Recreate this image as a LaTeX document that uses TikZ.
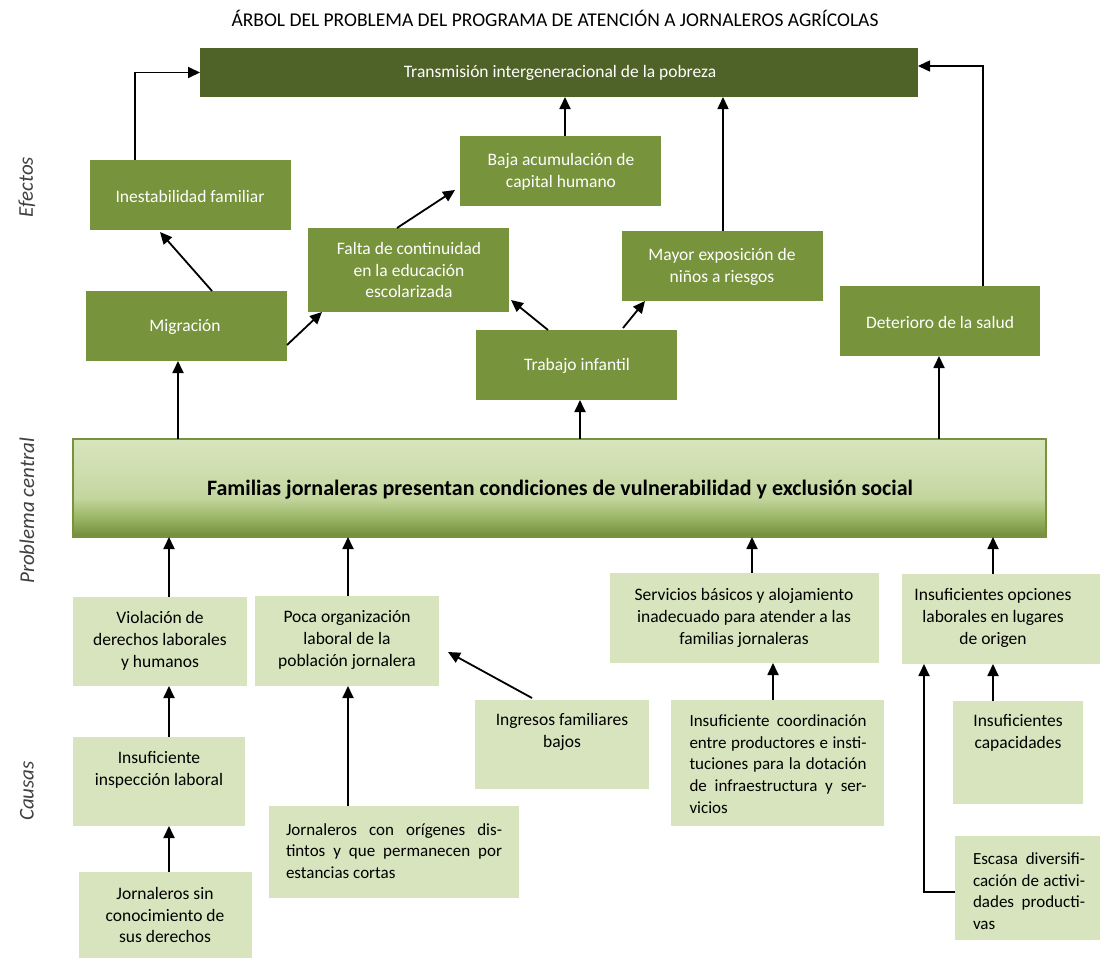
\documentclass[tikz,border=0pt]{standalone}
\usepackage{fontspec}
\setmainfont{Carlito}
\usetikzlibrary{arrows.meta}
\definecolor{topgreen}{HTML}{4F6228}
\definecolor{effgreen}{HTML}{77933C}
\definecolor{causegreen}{HTML}{D7E4BD}
\definecolor{labgray}{HTML}{404040}
\pgfdeclareverticalshading{censhade}{100bp}{color(0bp)=(effgreen!95!black); color(25bp)=(effgreen!95!black); color(35bp)=({rgb,255:red,155;green,182;blue,102}); color(45bp)=({rgb,255:red,195;green,214;blue,158}); color(60bp)=({rgb,255:red,207;green,223;blue,176}); color(75bp)=(causegreen); color(100bp)=(causegreen)}
\newcommand\fs{\fontsize{17.5}{21.7}\selectfont}
\newcommand\fsj{\fontsize{17}{21.7}\selectfont}
\newcommand\bx[6]{\node[#2, minimum width={(#5-#3)*1pt}, minimum height={(#6-#4)*1pt}] (#1) at (#3,#4) {};}
\newcommand\jl[2]{\makebox[#1pt][s]{#2}}
\tikzset{
  boxbase/.style={rectangle, inner sep=0pt, outer sep=0pt, anchor=north west},
  topbox/.style={boxbase, fill=topgreen},
  ebox/.style={boxbase, fill=effgreen},
  cbox/.style={boxbase, fill=causegreen},
  cenbox/.style={boxbase, draw=effgreen, line width=1.5pt, shading=censhade},
  wtxt/.style={text=white, align=center, font=\fs, inner sep=0pt},
  btxt/.style={text=black, align=center, font=\fs, inner sep=0pt},
  ltxt/.style={text=black, align=left, font=\fsj, inner sep=0pt},
  sidelab/.style={rotate=90, text=labgray, font=\fontsize{21}{25}\selectfont\itshape, inner sep=0pt},
  arr/.style={line width=1.8pt, -{Triangle[length=12pt,width=11pt]}},
}
\begin{document}
\begin{tikzpicture}[x=1pt,y=-1pt]
\useasboundingbox (0,0) rectangle (1100,958);
\fill[white] (0,0) rectangle (1100,958);

% title
\node[btxt, font=\fontsize{19.5}{23}\selectfont] (title) at (555,18) {ÁRBOL DEL PROBLEMA DEL PROGRAMA DE ATENCIÓN A JORNALEROS AGRÍCOLAS};

% side labels
\node[sidelab] (lefe) at (27,187) {Efectos};
\node[sidelab] (lpro) at (27,511) {Problema central};
\node[sidelab] (lcau) at (27,791) {Causas};

% boxes
\bx{top}{topbox}{200}{48}{918}{97}
\bx{ines}{ebox}{90}{160}{291}{230}
\bx{mig}{ebox}{86}{291}{287}{361}
\bx{falta}{ebox}{308}{228}{509}{312}
\bx{baja}{ebox}{460}{136}{661}{206}
\bx{mayor}{ebox}{622}{231}{823}{301}
\bx{trab}{ebox}{476}{330}{677}{400}
\bx{det}{ebox}{840}{286}{1040}{356}
\bx{cen}{cenbox}{73}{439}{1046}{537}
\bx{viol}{cbox}{73}{597}{247}{686}
\bx{poca}{cbox}{255}{596}{439}{686}
\bx{serv}{cbox}{610}{573}{879}{663}
\bx{opc}{cbox}{902}{574}{1100}{664}
\bx{insp}{cbox}{73}{737}{245}{826}
\bx{ingr}{cbox}{475}{700}{649}{789}
\bx{coord}{cbox}{671}{700}{884}{826}
\bx{cap}{cbox}{953}{701}{1083}{804}
\bx{sin}{cbox}{79}{872}{252}{958}
\bx{jcon}{cbox}{269}{806}{519}{898}
\bx{esc}{cbox}{955}{836}{1100}{940}

% texts
\node[wtxt] (ttop) at (560,73) {Transmisión intergeneracional de la pobreza};
\node[wtxt] (tines) at (190,196) {Inestabilidad familiar};
\node[wtxt] (tmig) at (185,327) {Migración};
\node[wtxt] (tfalta) at (409,270) {Falta de continuidad\\en la educación\\escolarizada};
\node[wtxt] (tbaja) at (561,172) {Baja acumulación de\\capital humano};
\node[wtxt] (tmayor) at (722,267) {Mayor exposición de\\niños a riesgos};
\node[wtxt] (ttrab) at (577,366) {Trabajo infantil};
\node[wtxt] (tdet) at (940,322) {Deterioro de la salud};
\node[btxt, font=\fontsize{22}{26}\selectfont\bfseries] (tcen) at (560,490) {Familias jornaleras presentan condiciones de vulnerabilidad y exclusión social};
\node[btxt] (tviol) at (160,641) {Violación de\\derechos laborales\\y humanos};
\node[btxt] (tpoca) at (347,640) {Poca organización\\laboral de la\\población jornalera};
\node[btxt] (tserv) at (744,618) {Servicios básicos y alojamiento\\inadecuado para atender a las\\familias jornaleras};
\node[btxt] (topc) at (993,618) {Insuficientes opciones\\laborales en lugares\\de origen};
\node[btxt] (tinsp) at (159,770) {Insuficiente\\inspección laboral};
\node[btxt] (tingr) at (562,732) {Ingresos familiares\\bajos};
\node[ltxt] (tcoord) at (778,764) {\jl{177}{Insuficiente coordinación}\\\jl{177}{entre productores e insti-}\\\jl{177}{tuciones para la dotación}\\\jl{177}{de infraestructura y ser-}\\vicios};
\node[btxt] (tcap) at (1018,733) {Insuficientes\\capacidades};
\node[btxt] (tsin) at (165,915) {Jornaleros sin\\conocimiento de\\sus derechos};
\node[ltxt] (tjcon) at (394,851) {\jl{216}{Jornaleros con orígenes dis-}\\\jl{216}{tintos y que permanecen por}\\estancias cortas};
\node[ltxt] (tesc) at (1029,891) {\jl{112}{Escasa diversifi-}\\\jl{112}{cación de activi-}\\\jl{112}{dades producti-}\\vas};

% effect connectors
\draw[arr] ([xshift=45pt]ines.north west) |- (top.west);
\draw[arr] ([xshift=105pt]baja.north west) -- ([xshift=365pt]top.south west);
\draw[arr, line width=1.5pt] ([xshift=101pt]mayor.north west) -- ([xshift=523pt]top.south west);
\draw[arr, line width=1.5pt] ([xshift=143pt]det.north west) |- ([yshift=-18pt]top.north east);
\draw[arr] ([xshift=126pt]mig.north west) -- ([xshift=70pt,yshift=-2pt]ines.south west);
\draw[arr] ([yshift=16pt]mig.south east) -- ([xshift=14pt]falta.south west);
\draw[arr] ([xshift=89pt]falta.north west) -- ([xshift=-5pt,yshift=16pt]baja.south west);
\draw[arr] ([xshift=72pt]trab.north west) -- ([xshift=2pt,yshift=12pt]falta.south east);
\draw[arr] ([xshift=147pt,yshift=2pt]trab.north west) -- ([xshift=23pt]mayor.south west);
\draw[arr] ([xshift=105pt]cen.north west) -- ([xshift=92pt]mig.south west);
\draw[arr] ([xshift=507pt]cen.north west) -- ([xshift=104pt]trab.south west);
\draw[arr] ([xshift=866pt]cen.north west) -- ([xshift=99pt]det.south west);

% cause connectors
\draw[arr] ([xshift=96pt]viol.north west) -- ([xshift=96pt]cen.south west);
\draw[arr] ([xshift=93pt]poca.north west) -- ([xshift=275pt]cen.south west);
\draw[arr] ([xshift=142pt]serv.north west) -- ([xshift=679pt]cen.south west);
\draw[arr] ([xshift=91pt]opc.north west) -- ([xshift=920pt]cen.south west);
\draw[arr] ([xshift=96pt]insp.north west) -- ([xshift=96pt]viol.south west);
\draw[arr] ([xshift=90pt]sin.north west) -- ([xshift=96pt]insp.south west);
\draw[arr] ([xshift=79pt]jcon.north west) -- ([xshift=93pt]poca.south west);
\draw[arr] ([xshift=57pt,yshift=2pt]ingr.north west) -- ([xshift=9pt,yshift=-56pt]poca.north east);
\draw[arr] ([xshift=102pt]coord.north west) -- ([xshift=163pt]serv.south west);
\draw[arr] ([xshift=40pt]cap.north west) -- ([xshift=91pt]opc.south west);
\draw[arr] ([yshift=-56pt]esc.north west) -| ([xshift=22pt]opc.south west);
\end{tikzpicture}
\end{document}
